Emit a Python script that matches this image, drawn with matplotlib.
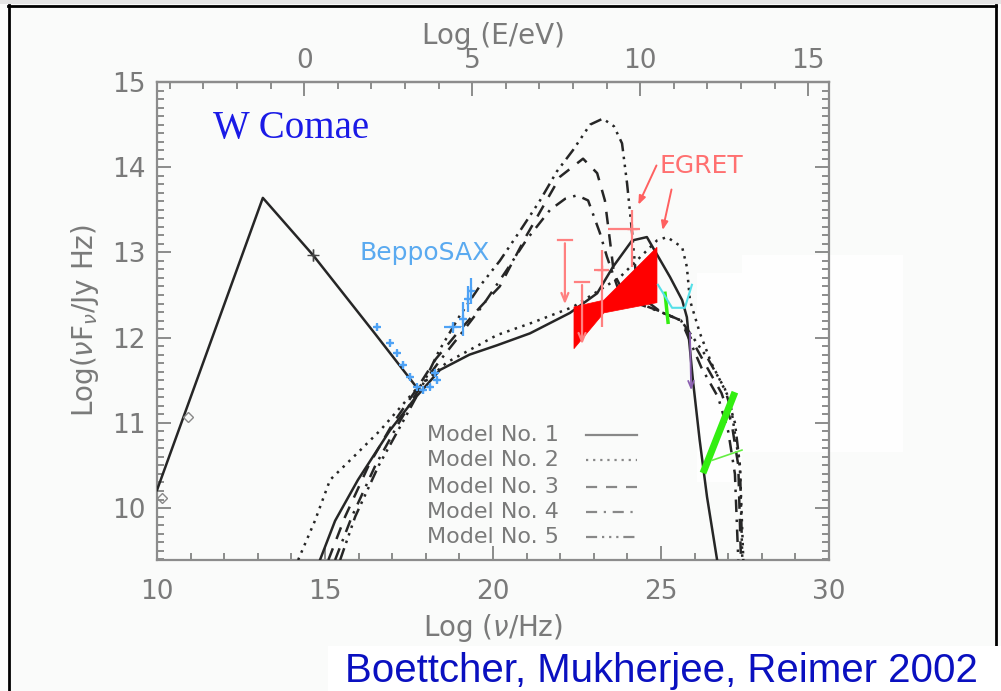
import numpy as np
import matplotlib
matplotlib.use("Agg")
import matplotlib.pyplot as plt
from matplotlib.patches import Rectangle, Polygon
from matplotlib.lines import Line2D
from matplotlib.ticker import MultipleLocator

plt.rcParams['font.family'] = ['DejaVu Sans']
plt.rcParams['mathtext.fontset'] = 'dejavusans'

# ---------------- data ----------------
sync_x = [10.0, 13.15, 14.64, 16.5, 17.74]
sync_y = [10.21, 13.64, 12.97, 12.04, 11.41]

m1_x = [14.85, 15.3, 15.98, 16.93, 17.68, 18.42, 19.3, 20.12, 21.1, 22.29, 23.1, 23.57, 24.14,
        24.58, 25.27, 25.63, 25.77, 25.95, 26.15, 26.37, 26.67]
m1_y = [9.39, 9.85, 10.33, 10.91, 11.29, 11.62, 11.8, 11.91, 12.05, 12.29, 12.52, 12.83, 13.14,
        13.18, 12.71, 12.44, 12.24, 11.5, 10.8, 10.13, 9.39]

m2_x = [14.2, 14.7, 15.15, 15.9, 16.64, 17.68, 18.63, 20.12, 21.2, 22.38, 23.78, 24.88, 25.18,
        25.63, 25.77, 25.86, 26.16, 26.5, 27.05, 27.35, 27.45]
m2_y = [9.39, 9.85, 10.33, 10.62, 10.91, 11.38, 11.71, 12.03, 12.18, 12.36, 12.71, 13.14, 13.18,
        13.06, 12.83, 12.44, 12.05, 11.7, 11.27, 10.48, 9.39]

m3_x = [15.1, 15.6, 16.3, 17.0, 17.7, 18.3, 18.93, 19.6, 20.2, 21.0, 22.0, 22.68, 23.1, 23.33,
        23.48, 23.6, 24.0, 24.9, 25.6, 26.3, 26.8, 27.1, 27.3, 27.38]
m3_y = [9.39, 9.9, 10.5, 10.98, 11.38, 11.75, 12.05, 12.35, 12.6, 13.2, 13.89, 14.1, 13.93, 13.61,
        13.14, 12.75, 12.45, 12.32, 12.2, 11.7, 11.35, 11.0, 10.5, 9.39]

m4_x = [15.3, 15.8, 16.5, 17.2, 17.8, 18.4, 19.0, 19.7, 20.42, 21.0, 21.7, 22.15, 22.5, 22.83,
        23.18, 23.39, 23.7, 24.3, 25.0, 25.6, 26.2, 26.7, 27.0, 27.2, 27.3]
m4_y = [9.39, 9.9, 10.5, 11.0, 11.4, 11.72, 12.02, 12.38, 12.8, 13.15, 13.5, 13.63, 13.67, 13.61,
        13.23, 12.95, 12.6, 12.4, 12.3, 12.2, 11.65, 11.3, 10.9, 10.4, 9.39]

m5_x = [15.45, 15.9, 16.6, 17.3, 17.85, 18.4, 19.0, 19.6, 20.2, 20.8, 21.4, 21.9, 22.38, 22.89,
        23.27, 23.6, 23.84, 23.99, 24.14, 24.25, 24.5, 25.0, 25.6, 26.4, 26.9, 27.2, 27.35, 27.42]
m5_y = [9.39, 9.9, 10.5, 11.0, 11.4, 11.85, 12.25, 12.6, 12.9, 13.25, 13.61, 13.95, 14.2, 14.5,
        14.57, 14.48, 14.28, 13.81, 13.23, 12.75, 12.45, 12.3, 12.2, 11.75, 11.4, 11.0, 10.5, 9.39]

model_labels = ["Model No. 1", "Model No. 2", "Model No. 3", "Model No. 4", "Model No. 5"]

# radio / optical black points
radio_x = [10.15, 10.92]
radio_y = [10.12, 11.07]
opt_x = [14.64]
opt_y = [12.97]

# BeppoSAX points
sax_x = [16.55, 16.93, 17.14, 17.32, 17.53, 17.74, 17.92, 18.13, 18.33, 18.27,
         18.8, 19.1, 19.25, 19.35]
sax_y = [12.12, 11.94, 11.82, 11.68, 11.54, 11.42, 11.38, 11.42, 11.5, 11.58,
         12.12, 12.22, 12.45, 12.55]
sax_xerr = [0.08, 0.08, 0.08, 0.08, 0.08, 0.08, 0.08, 0.08, 0.08, 0.08, 0.25, 0.1, 0.08, 0.05]
sax_yerr = [0.04, 0.04, 0.04, 0.04, 0.04, 0.04, 0.04, 0.04, 0.04, 0.04, 0.06, 0.2, 0.15, 0.15]

# EGRET
egret_bow_x = [22.41, 23.3, 24.88, 24.88, 23.3, 22.41]
egret_bow_y = [12.36, 12.44, 13.06, 12.41, 12.29, 11.87]
egret_ul_x = [22.14, 22.65]
egret_ul_top = [13.14, 12.65]
egret_ul_bot = [12.36, 11.89]
egret_pt_x = [23.24, 24.14]
egret_pt_y = [12.79, 13.28]
egret_pt_xerr = [[0.22, 0.72], [0.22, 0.24]]
egret_pt_yerr = [[0.67, 0.45], [0.24, 0.22]]

# other instruments (TeV region)
green_x = [26.25, 27.2]
green_y = [10.41, 11.36]
green2_x = [25.12, 25.21]
green2_y = [12.52, 12.18]
green_thin_x = [26.52, 27.41]
green_thin_y = [10.56, 10.68]
cyan_x = [24.91, 25.33, 25.71, 25.92]
cyan_y = [12.62, 12.35, 12.35, 12.62]
purple_x = [25.86, 25.9]
purple_y = [12.09, 11.35]

# ---------------- figure ----------------
W, H = 1001, 691
fig = plt.figure(figsize=(W / 100, H / 100), dpi=100, facecolor='#fafbfa')

def fx(p):
    return p / W

def fy(p):
    return 1 - p / H

# white cover patches (from original slide)
for (x0, y0, x1, y1) in [(742, 255, 903, 452), (697, 273, 742, 482)]:
    fig.add_artist(Rectangle((fx(x0), fy(y1)), fx(x1) - fx(x0), fy(y0) - fy(y1),
                             transform=fig.transFigure, facecolor='#fefefe', edgecolor='none',
                             zorder=-2))

ax = fig.add_axes([fx(157), fy(560), fx(829) - fx(157), fy(82) - fy(560)])
ax.set_facecolor('none')
ax.set_xlim(10, 30)
ax.set_ylim(9.39, 15)

gray = '#7a7a7a'
spine_c = '#8c8c8c'
for s in ax.spines.values():
    s.set_color(spine_c)
    s.set_linewidth(1.6)

ax.xaxis.set_major_locator(MultipleLocator(5))
ax.xaxis.set_minor_locator(MultipleLocator(1))
ax.yaxis.set_major_locator(MultipleLocator(1))
ax.yaxis.set_minor_locator(MultipleLocator(0.1))
ax.tick_params(which='both', direction='in', color=spine_c, width=1.4,
               top=False, right=True, labelcolor=gray, labelsize=19)
ax.tick_params(which='major', length=10)
ax.tick_params(which='minor', length=5)
ax.tick_params(axis='x', pad=14)
ax.tick_params(axis='y', pad=8)

sec = ax.secondary_xaxis('top', functions=(lambda v: v - 14.38, lambda v: v + 14.38))
sec.xaxis.set_major_locator(MultipleLocator(5))
sec.xaxis.set_minor_locator(MultipleLocator(1))
sec.tick_params(which='both', direction='in', color=spine_c, width=1.4,
                labelcolor=gray, labelsize=19, pad=6)
sec.tick_params(which='major', length=10)
sec.tick_params(which='minor', length=5)
sec.spines['top'].set_color(spine_c)
sec.spines['top'].set_linewidth(1.6)

ax.set_xlabel(r'Log ($\nu$/Hz)', color=gray, fontsize=20)
ax.xaxis.set_label_coords(0.5, -0.108)
ax.set_ylabel(r'Log($\nu$F$_\nu$/Jy Hz)', color=gray, fontsize=20)
ax.yaxis.set_label_coords(-0.084, 0.5)
ax.text(0.5, 1.097, 'Log (E/eV)', transform=ax.transAxes, ha='center', va='center',
        color=gray, fontsize=20)

# ---------------- curves ----------------
lc = '#262626'
lw = 1.8
ax.plot(sync_x, sync_y, color=lc, lw=lw, zorder=3)
styles = ['-', (0, (1, 2.2)), (0, (5, 4)), (0, (5, 3, 1, 3)), (0, (5, 2.2, 1, 2.2, 1, 2.2, 1, 2.2))]
for xs, ys, ls in zip([m1_x, m2_x, m3_x, m4_x, m5_x], [m1_y, m2_y, m3_y, m4_y, m5_y], styles):
    ax.plot(xs, ys, color=lc, lw=lw, ls=ls, zorder=3)

# black data points
ax.plot(radio_x, radio_y, ls='none', marker='D', ms=5, mfc='none', mec='#888888', mew=1, zorder=4)
ax.errorbar(opt_x, opt_y, xerr=0.08, yerr=0.07, fmt='+', color='#444444', ms=8, lw=1, zorder=4)

# BeppoSAX
sax_c = '#4ea2f5'
ax.errorbar(sax_x, sax_y, xerr=sax_xerr, yerr=sax_yerr, fmt='+', color=sax_c, ms=6,
            lw=1.6, mew=1.6, zorder=5)
ax.text(16.04, 12.99, 'BeppoSAX', color='#5aaaf0', fontsize=18, ha='left', va='center')

# EGRET
ax.add_patch(Polygon(np.column_stack([egret_bow_x, egret_bow_y]), closed=True,
                     facecolor='#ff0000', edgecolor='#ff0000', lw=0.5, zorder=4))
eg_c = '#ff8080'
for x, yt, yb in zip(egret_ul_x, egret_ul_top, egret_ul_bot):
    ax.annotate('', xy=(x, yb), xytext=(x, yt),
                arrowprops=dict(arrowstyle='->, head_length=0.6, head_width=0.25', color=eg_c, lw=1.6),
                zorder=5)
    ax.plot([x - 0.2, x + 0.2], [yt, yt], color=eg_c, lw=1.6, zorder=5)
ax.errorbar(egret_pt_x, egret_pt_y, xerr=egret_pt_xerr, yerr=egret_pt_yerr, fmt='+',
            color=eg_c, ms=7, lw=1.6, zorder=5)
ax.text(24.97, 14.02, 'EGRET', color='#ff7070', fontsize=18, ha='left', va='center')
ax.annotate('', xy=(24.29, 13.53), xytext=(24.9, 14.05),
            arrowprops=dict(arrowstyle='-|>, head_length=0.5, head_width=0.2', color='#ff6060', lw=1.4))
ax.annotate('', xy=(25.03, 13.23), xytext=(25.33, 13.77),
            arrowprops=dict(arrowstyle='-|>, head_length=0.5, head_width=0.2', color='#ff6060', lw=1.4))

# TeV-region data
ax.plot(green_x, green_y, color='#33ee11', lw=5, solid_capstyle='butt', zorder=6)
ax.plot(green2_x, green2_y, color='#33ee11', lw=2.5, zorder=6)
ax.plot(green_thin_x, green_thin_y, color='#66ee44', lw=1.2, zorder=6)
ax.plot(cyan_x, cyan_y, color='#55e0e8', lw=1.5, zorder=6)
ax.annotate('', xy=(purple_x[1], purple_y[1]), xytext=(purple_x[0], purple_y[0]),
            arrowprops=dict(arrowstyle='->, head_length=0.5, head_width=0.2', color='#8a5fb0', lw=1.3),
            zorder=6)

# W Comae
ax.text(11.67, 14.46, 'W Comae', color='#1a1ae6', fontsize=28, family='Liberation Serif',
        ha='left', va='center')

# legend (manual, IDL style)
leg_y = [0.2615, 0.209, 0.153, 0.100, 0.048]
for lab, ls, yy in zip(model_labels, styles, leg_y):
    ax.text(0.402, yy, lab, transform=ax.transAxes, color=gray, fontsize=16,
            ha='left', va='center')
    ax.plot([0.639, 0.715], [yy, yy], transform=ax.transAxes, color='#888888', lw=1.6, ls=ls)

# ---------------- frame and footer ----------------
fig.add_artist(Rectangle((0, fy(4)), 1, fy(0) - fy(4), transform=fig.transFigure,
                         facecolor='#e4e4e4', edgecolor='none', zorder=-1))
border_kw = dict(transform=fig.transFigure, color='black', lw=2, zorder=10)
fig.add_artist(Line2D([fx(8), fx(996)], [fy(5.5), fy(5.5)], **border_kw))
fig.add_artist(Line2D([fx(8.5), fx(8.5)], [fy(5), fy(691)], **border_kw))
fig.add_artist(Line2D([fx(995.5), fx(995.5)], [fy(5), fy(646)], **border_kw))
fig.add_artist(Rectangle((fx(328), 0), 1 - fx(328), fy(646), transform=fig.transFigure,
                         facecolor='white', edgecolor='none', zorder=11))
fig.text(fx(345), fy(682), 'Boettcher, Mukherjee, Reimer 2002', color='#0a10c0',
         fontsize=29, family='Liberation Sans', ha='left', va='baseline', zorder=12)

fig.savefig('out.png', dpi=100, facecolor=fig.get_facecolor())
